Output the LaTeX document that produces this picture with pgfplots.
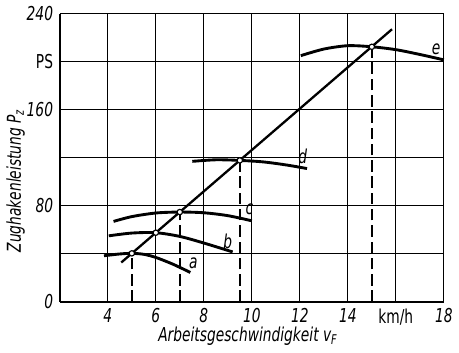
\documentclass[border=0pt]{standalone}
\usepackage{fontspec}
\setmainfont{DejaVu Sans}[FakeStretch=0.82]
\newfontfamily\tickfont{DejaVu Sans}[FakeStretch=0.72]
\usepackage{pgfplots}
\pgfplotsset{compat=1.18}
\begin{document}
\begin{tikzpicture}
\begin{axis}[
  scale only axis, width=200.5pt, height=150.5pt,
  xmin=2, xmax=18, ymin=0, ymax=240,
  axis lines=left, axis line style={-, line width=1.1pt},
  xtick={2,4,...,18}, xticklabels={,4,6,8,10,12,14,\upshape km/h,18},
  ytick={0,40,...,240}, yticklabels={0,,80,,160,\upshape PS,240},
  grid=major, grid style={black, line width=0.55pt},
  major tick length=0pt,
  tick label style={font=\tickfont\fontsize{10}{10}\selectfont\itshape},
  /pgf/number format/assume math mode=true,
  xlabel={Arbeitsgeschwindigkeit v\textsubscript{F}},
  ylabel={Zughakenleistung P\textsubscript{z}},
  label style={font=\tickfont\fontsize{10}{10}\selectfont\itshape},
  xlabel style={at={(axis description cs:0.49,-0.12)}, anchor=center},
  ylabel style={at={(axis description cs:-0.115,0.42)}, anchor=center},
  clip=false,
]
% dashed verticals
\addplot[black, line width=0.75pt, dash pattern=on 6pt off 2.5pt] coordinates {(5,0) (5,40.4)};
\addplot[black, line width=0.75pt, dash pattern=on 6pt off 2.5pt] coordinates {(7,0) (7,74.8)};
\addplot[black, line width=0.75pt, dash pattern=on 6pt off 2.5pt] coordinates {(9.5,0) (9.5,117.8)};
\addplot[black, line width=0.75pt, dash pattern=on 6pt off 2.5pt] coordinates {(15,0) (15,212.4)};
% curves
\addplot[black, smooth, line width=1.5pt] coordinates {(3.84,38.4) (4.5,39.9) (5,40.4) (5.5,39.6) (6,37) (6.7,31.5) (7.44,24.5)};
\addplot[black, smooth, line width=1.5pt] coordinates {(4.04,55) (5,57.3) (6,57.6) (7,54.5) (8,49) (9.2,41.6)};
\addplot[black, smooth, line width=1.5pt] coordinates {(4.24,67) (5,71) (6,74) (7,74.8) (8,74.2) (9,71.8) (10,67.5)};
\addplot[black, smooth, line width=1.5pt] coordinates {(7.52,117) (8.5,118.3) (9.5,117.8) (10.5,116.5) (11.5,113.8) (12.3,111)};
\addplot[black, smooth, line width=1.5pt] coordinates {(12.04,205) (13,210.5) (14,213.3) (15,212.4) (16,210) (17,206) (18,201.5)};
% operating line
\addplot[black, line width=1.2pt] coordinates {(4.56,32.8) (15.84,227)};
\addplot[only marks, mark=*, mark size=1.4pt, mark options={fill=white, draw=black, line width=0.6pt}]
  coordinates {(5,40.4) (6,57.6) (7,74.8) (9.5,117.8) (15,212.4)};
% curve labels
\node[font=\tickfont\fontsize{10}{10}\selectfont\itshape] at (axis cs:7.56,32) {a};
\node[font=\tickfont\fontsize{10}{10}\selectfont\itshape] at (axis cs:9.0,50.4) {b};
\node[font=\tickfont\fontsize{10}{10}\selectfont\itshape] at (axis cs:9.9,77) {c};
\node[font=\tickfont\fontsize{10}{10}\selectfont\itshape] at (axis cs:12.12,121) {d};
\node[font=\tickfont\fontsize{10}{10}\selectfont\itshape] at (axis cs:17.68,210) {e};
\end{axis}
\end{tikzpicture}
\end{document}
